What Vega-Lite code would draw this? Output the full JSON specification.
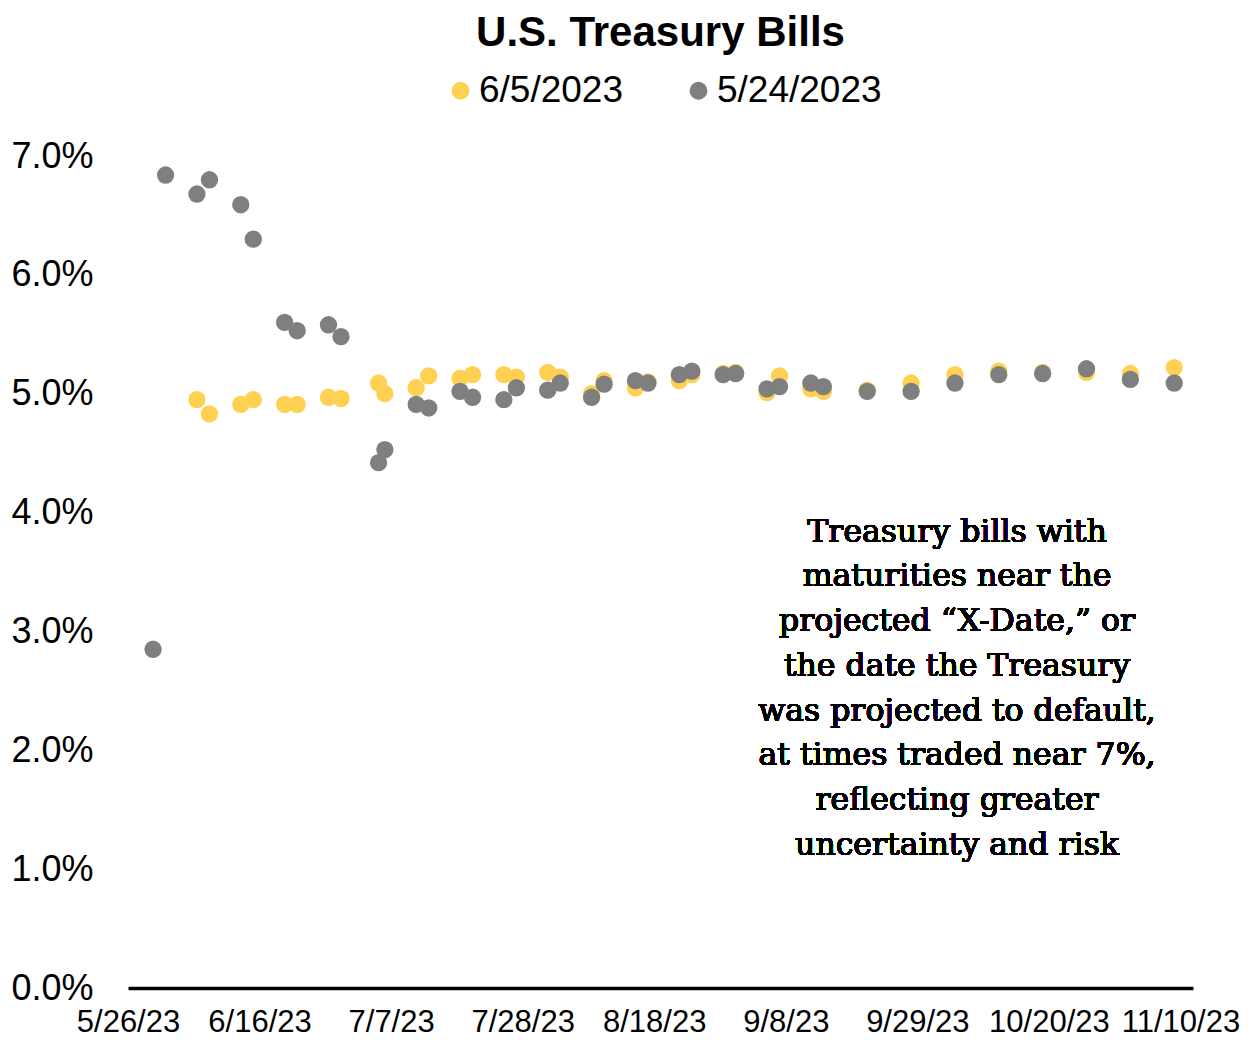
{
  "$schema": "https://vega.github.io/schema/vega-lite/v6.json",
  "autosize": {"type": "none"},
  "padding": {"left": 128, "top": 156, "right": 64, "bottom": 52},
  "width": 1065,
  "height": 832,
  "background": "white",
  "title": {"text": "U.S. Treasury Bills", "font": "Liberation Sans", "fontSize": 42, "fontWeight": "bold", "color": "#000000", "anchor": "middle", "frame": "group", "offset": 17},
  "config": {"view": {"stroke": null}},
  "data": {"values": [
    {"series": "6/5/2023", "date": "2023-06-06T00:00", "rate": 4.95},
    {"series": "6/5/2023", "date": "2023-06-08T00:00", "rate": 4.83},
    {"series": "6/5/2023", "date": "2023-06-13T00:00", "rate": 4.91},
    {"series": "6/5/2023", "date": "2023-06-15T00:00", "rate": 4.95},
    {"series": "6/5/2023", "date": "2023-06-20T00:00", "rate": 4.91},
    {"series": "6/5/2023", "date": "2023-06-22T00:00", "rate": 4.91},
    {"series": "6/5/2023", "date": "2023-06-27T00:00", "rate": 4.97},
    {"series": "6/5/2023", "date": "2023-06-29T00:00", "rate": 4.96},
    {"series": "6/5/2023", "date": "2023-07-05T00:00", "rate": 5.09},
    {"series": "6/5/2023", "date": "2023-07-06T00:00", "rate": 5.00},
    {"series": "6/5/2023", "date": "2023-07-11T00:00", "rate": 5.05},
    {"series": "6/5/2023", "date": "2023-07-13T00:00", "rate": 5.15},
    {"series": "6/5/2023", "date": "2023-07-18T00:00", "rate": 5.13},
    {"series": "6/5/2023", "date": "2023-07-20T00:00", "rate": 5.16},
    {"series": "6/5/2023", "date": "2023-07-25T00:00", "rate": 5.16},
    {"series": "6/5/2023", "date": "2023-07-27T00:00", "rate": 5.14},
    {"series": "6/5/2023", "date": "2023-08-01T00:00", "rate": 5.18},
    {"series": "6/5/2023", "date": "2023-08-03T00:00", "rate": 5.14},
    {"series": "6/5/2023", "date": "2023-08-08T00:00", "rate": 5.00},
    {"series": "6/5/2023", "date": "2023-08-10T00:00", "rate": 5.11},
    {"series": "6/5/2023", "date": "2023-08-15T00:00", "rate": 5.05},
    {"series": "6/5/2023", "date": "2023-08-17T00:00", "rate": 5.10},
    {"series": "6/5/2023", "date": "2023-08-22T00:00", "rate": 5.11},
    {"series": "6/5/2023", "date": "2023-08-24T00:00", "rate": 5.16},
    {"series": "6/5/2023", "date": "2023-08-29T00:00", "rate": 5.17},
    {"series": "6/5/2023", "date": "2023-08-31T00:00", "rate": 5.18},
    {"series": "6/5/2023", "date": "2023-09-05T00:00", "rate": 5.01},
    {"series": "6/5/2023", "date": "2023-09-07T00:00", "rate": 5.15},
    {"series": "6/5/2023", "date": "2023-09-12T00:00", "rate": 5.04},
    {"series": "6/5/2023", "date": "2023-09-14T00:00", "rate": 5.02},
    {"series": "6/5/2023", "date": "2023-09-21T00:00", "rate": 5.03},
    {"series": "6/5/2023", "date": "2023-09-28T00:00", "rate": 5.09},
    {"series": "6/5/2023", "date": "2023-10-05T00:00", "rate": 5.16},
    {"series": "6/5/2023", "date": "2023-10-12T00:00", "rate": 5.19},
    {"series": "6/5/2023", "date": "2023-10-19T00:00", "rate": 5.18},
    {"series": "6/5/2023", "date": "2023-10-26T00:00", "rate": 5.18},
    {"series": "6/5/2023", "date": "2023-11-02T00:00", "rate": 5.17},
    {"series": "6/5/2023", "date": "2023-11-09T00:00", "rate": 5.22},
    {"series": "5/24/2023", "date": "2023-05-30T00:00", "rate": 2.85},
    {"series": "5/24/2023", "date": "2023-06-01T00:00", "rate": 6.84},
    {"series": "5/24/2023", "date": "2023-06-06T00:00", "rate": 6.68},
    {"series": "5/24/2023", "date": "2023-06-08T00:00", "rate": 6.80},
    {"series": "5/24/2023", "date": "2023-06-13T00:00", "rate": 6.59},
    {"series": "5/24/2023", "date": "2023-06-15T00:00", "rate": 6.30},
    {"series": "5/24/2023", "date": "2023-06-20T00:00", "rate": 5.60},
    {"series": "5/24/2023", "date": "2023-06-22T00:00", "rate": 5.53},
    {"series": "5/24/2023", "date": "2023-06-27T00:00", "rate": 5.58},
    {"series": "5/24/2023", "date": "2023-06-29T00:00", "rate": 5.48},
    {"series": "5/24/2023", "date": "2023-07-05T00:00", "rate": 4.42},
    {"series": "5/24/2023", "date": "2023-07-06T00:00", "rate": 4.53},
    {"series": "5/24/2023", "date": "2023-07-11T00:00", "rate": 4.91},
    {"series": "5/24/2023", "date": "2023-07-13T00:00", "rate": 4.88},
    {"series": "5/24/2023", "date": "2023-07-18T00:00", "rate": 5.02},
    {"series": "5/24/2023", "date": "2023-07-20T00:00", "rate": 4.97},
    {"series": "5/24/2023", "date": "2023-07-25T00:00", "rate": 4.95},
    {"series": "5/24/2023", "date": "2023-07-27T00:00", "rate": 5.05},
    {"series": "5/24/2023", "date": "2023-08-01T00:00", "rate": 5.03},
    {"series": "5/24/2023", "date": "2023-08-03T00:00", "rate": 5.09},
    {"series": "5/24/2023", "date": "2023-08-08T00:00", "rate": 4.97},
    {"series": "5/24/2023", "date": "2023-08-10T00:00", "rate": 5.08},
    {"series": "5/24/2023", "date": "2023-08-15T00:00", "rate": 5.11},
    {"series": "5/24/2023", "date": "2023-08-17T00:00", "rate": 5.09},
    {"series": "5/24/2023", "date": "2023-08-22T00:00", "rate": 5.16},
    {"series": "5/24/2023", "date": "2023-08-24T00:00", "rate": 5.19},
    {"series": "5/24/2023", "date": "2023-08-29T00:00", "rate": 5.16},
    {"series": "5/24/2023", "date": "2023-08-31T00:00", "rate": 5.17},
    {"series": "5/24/2023", "date": "2023-09-05T00:00", "rate": 5.04},
    {"series": "5/24/2023", "date": "2023-09-07T00:00", "rate": 5.06},
    {"series": "5/24/2023", "date": "2023-09-12T00:00", "rate": 5.09},
    {"series": "5/24/2023", "date": "2023-09-14T00:00", "rate": 5.06},
    {"series": "5/24/2023", "date": "2023-09-21T00:00", "rate": 5.02},
    {"series": "5/24/2023", "date": "2023-09-28T00:00", "rate": 5.02},
    {"series": "5/24/2023", "date": "2023-10-05T00:00", "rate": 5.09},
    {"series": "5/24/2023", "date": "2023-10-12T00:00", "rate": 5.16},
    {"series": "5/24/2023", "date": "2023-10-19T00:00", "rate": 5.17},
    {"series": "5/24/2023", "date": "2023-10-26T00:00", "rate": 5.21},
    {"series": "5/24/2023", "date": "2023-11-02T00:00", "rate": 5.12},
    {"series": "5/24/2023", "date": "2023-11-09T00:00", "rate": 5.09}
  ]},
  "layer": [
    {
      "mark": {"type": "point", "filled": true, "opacity": 1, "size": 300, "shape": "circle"},
      "encoding": {
        "x": {
          "field": "date", "type": "temporal",
          "scale": {"domain": [{"year": 2023, "month": 5, "date": 26}, {"year": 2023, "month": 11, "date": 12}]},
          "axis": {
            "title": null,
            "values": [
              {"year": 2023, "month": 5, "date": 26},
              {"year": 2023, "month": 6, "date": 16},
              {"year": 2023, "month": 7, "date": 7},
              {"year": 2023, "month": 7, "date": 28},
              {"year": 2023, "month": 8, "date": 18},
              {"year": 2023, "month": 9, "date": 8},
              {"year": 2023, "month": 9, "date": 29},
              {"year": 2023, "month": 10, "date": 20},
              {"year": 2023, "month": 11, "date": 10}
            ],
            "format": "%-m/%-d/%y",
            "labelFont": "Liberation Sans", "labelFontSize": 31, "labelColor": "#000000",
            "labelPadding": 19, "labelOverlap": false, "labelFlush": false, "labelBound": false,
            "ticks": false, "grid": false,
            "domain": true, "domainColor": "#000000", "domainWidth": 3.5
          }
        },
        "y": {
          "field": "rate", "type": "quantitative",
          "scale": {"domain": [0, 7], "nice": false},
          "axis": {
            "title": null,
            "values": [0, 1, 2, 3, 4, 5, 6, 7],
            "labelExpr": "format(datum.value, '.1f') + '%'",
            "labelFont": "Liberation Sans", "labelFontSize": 36, "labelColor": "#000000",
            "labelPadding": 35, "ticks": false, "grid": false, "domain": false
          }
        },
        "color": {
          "field": "series", "type": "nominal",
          "scale": {"domain": ["6/5/2023", "5/24/2023"], "range": ["#FFD051", "#7F7F7F"]},
          "legend": {
            "title": null, "orient": "none", "direction": "horizontal",
            "legendX": 314, "legendY": -84,
            "symbolType": "circle", "symbolSize": 320, "symbolOpacity": 1,
            "labelFont": "Liberation Sans", "labelFontSize": 37, "labelColor": "#000000",
            "labelLimit": 400, "labelOffset": 0, "columnPadding": 56, "padding": 0
          }
        }
      }
    },
    {
      "mark": {
        "type": "text",
        "text": ["Treasury bills with", "maturities near the", "projected \u201cX-Date,\u201d or", "the date the Treasury", "was projected to default,", "at times traded near 7%,", "reflecting greater", "uncertainty and risk"],
        "font": "DejaVu Serif", "fontSize": 31.5, "lineHeight": 44.7, "align": "center", "baseline": "middle", "color": "#000000"
      },
      "encoding": {
        "x": {"datum": {"year": 2023, "month": 10, "date": 5, "hours": 8}, "type": "temporal"},
        "y": {"datum": 3.83, "type": "quantitative"}
      }
    }
  ]
}
